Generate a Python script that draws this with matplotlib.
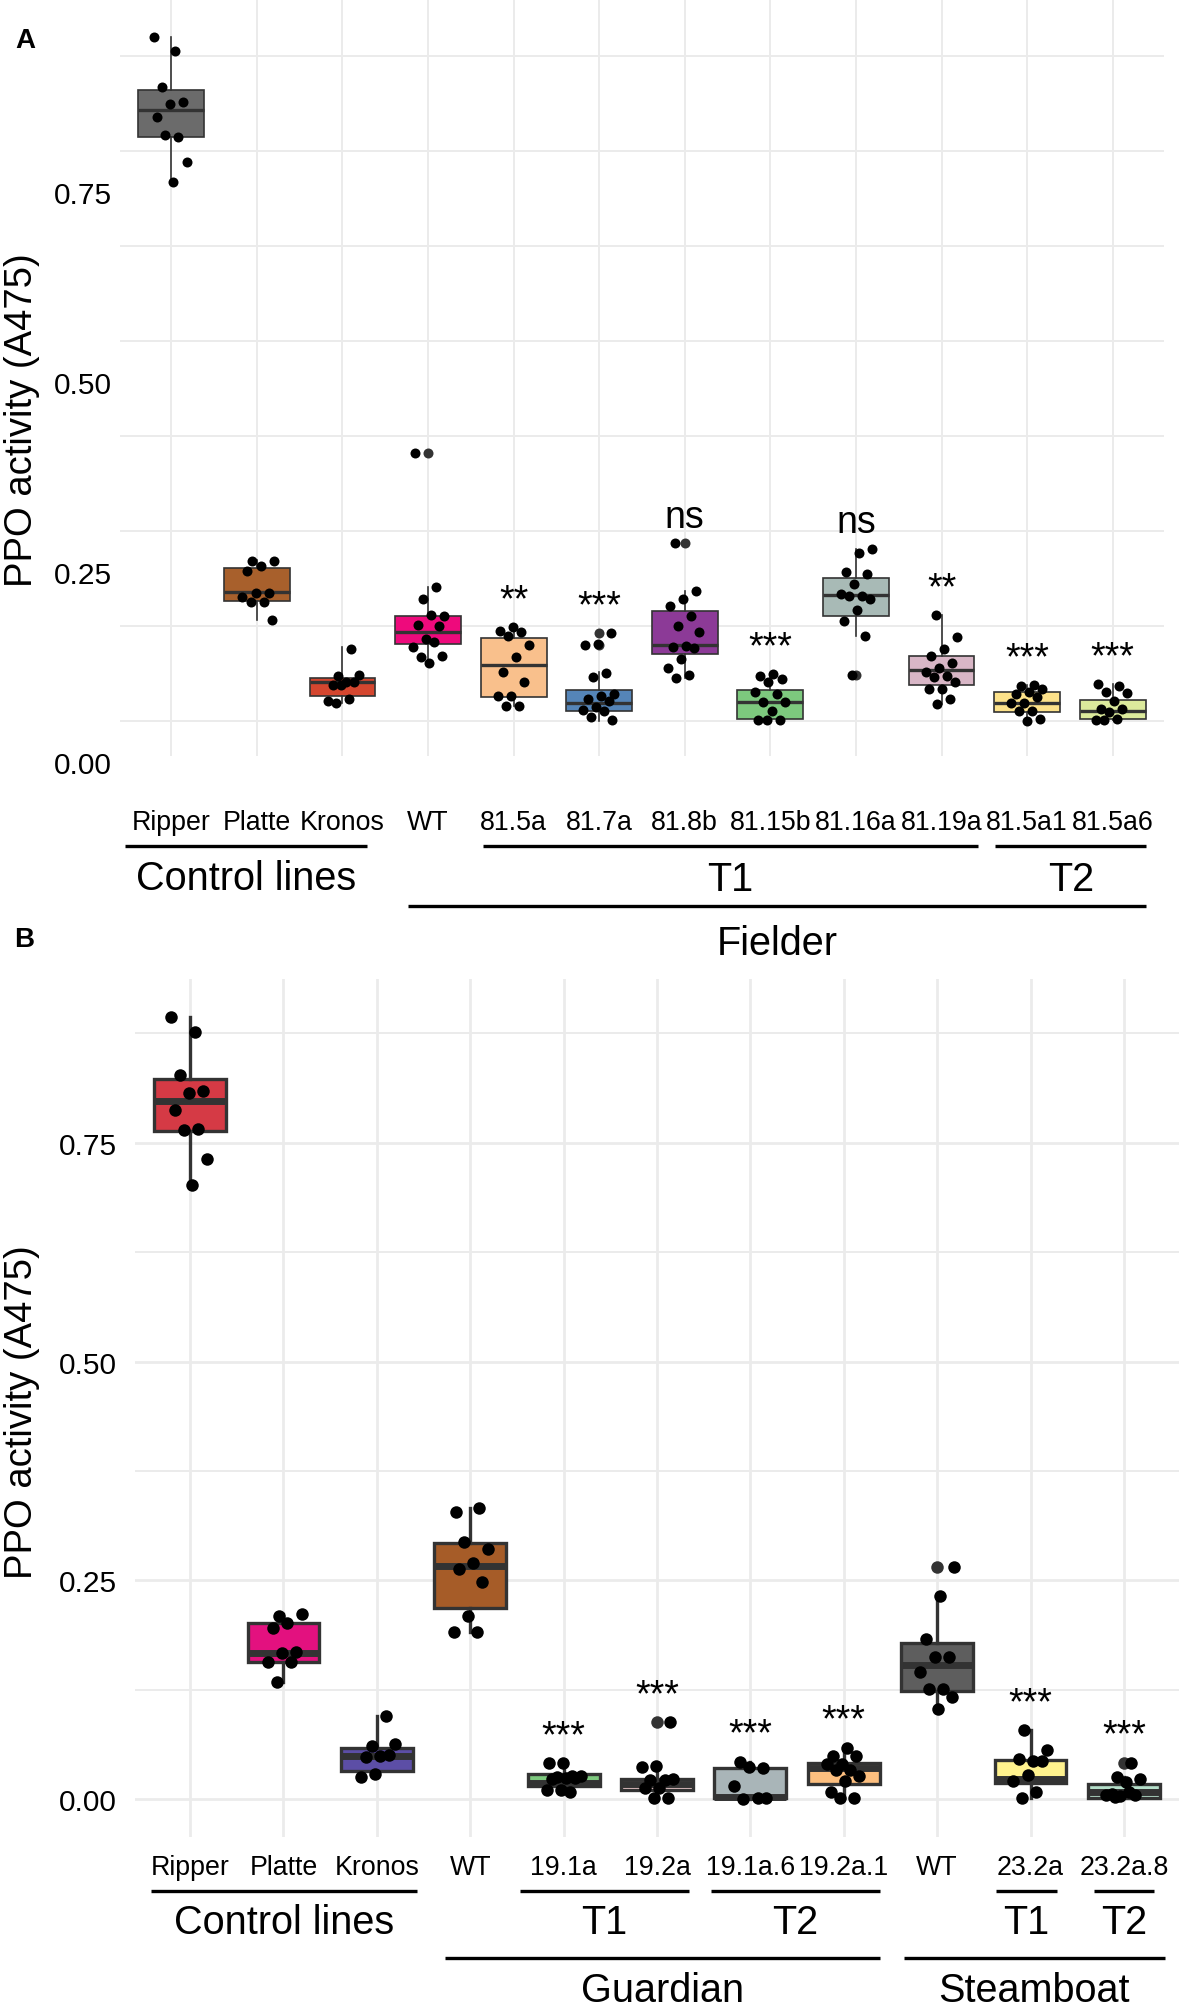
import numpy as np
import matplotlib.pyplot as plt
from matplotlib.transforms import blended_transform_factory as blend

plt.rcParams['font.family'] = ['Liberation Sans', 'DejaVu Sans']

W, H = 1181, 2008

# ---- panel A : Fielder ----
a_names = ['Ripper', 'Platte', 'Kronos', 'WT', '81.5a', '81.7a', '81.8b',
           '81.15b', '81.16a', '81.19a', '81.5a1', '81.5a6']
a_colors = ['#6b6b6b', '#a8602c', '#d4462f', '#ee0a7c', '#f9c08c', '#5585b8',
            '#8c3a97', '#7dc97e', '#a8bab6', '#d8b6c6', '#fde28a', '#dcea9c']
a_q1 = [0.769, 0.158, 0.033, 0.102, 0.032, 0.013, 0.088, 0.003, 0.138, 0.048, 0.012, 0.003]
a_med = [0.804, 0.170, 0.051, 0.117, 0.074, 0.024, 0.100, 0.025, 0.166, 0.067, 0.024, 0.013]
a_q3 = [0.830, 0.202, 0.057, 0.138, 0.109, 0.041, 0.145, 0.041, 0.188, 0.086, 0.038, 0.028]
a_lo = [0.709, 0.133, 0.024, 0.077, 0.020, 0.000, 0.057, 0.001, 0.112, 0.022, 0.000, 0.002]
a_hi = [0.900, 0.212, 0.097, 0.177, 0.124, 0.064, 0.171, 0.062, 0.227, 0.139, 0.047, 0.049]
a_fliers = [[], [], [], [0.353], [], [0.116, 0.100], [0.234], [], [0.061], [], [], []]
a_points = [
    [0.900, 0.882, 0.834, 0.815, 0.812, 0.795, 0.769, 0.771, 0.736, 0.709],
    [0.211, 0.210, 0.204, 0.197, 0.169, 0.169, 0.163, 0.157, 0.157, 0.133],
    [0.095, 0.059, 0.061, 0.051, 0.047, 0.051, 0.047, 0.027, 0.029, 0.024],
    [0.353, 0.177, 0.160, 0.138, 0.139, 0.127, 0.125, 0.108, 0.098, 0.104, 0.084, 0.086, 0.077],
    [0.124, 0.118, 0.117, 0.112, 0.100, 0.084, 0.065, 0.051, 0.033, 0.033, 0.020, 0.020],
    [0.116, 0.102, 0.100, 0.063, 0.058, 0.036, 0.033, 0.029, 0.027, 0.018, 0.015, 0.013, 0.005, 0.002],
    [0.234, 0.171, 0.160, 0.152, 0.138, 0.125, 0.117, 0.099, 0.097, 0.096, 0.081, 0.070, 0.060, 0.057],
    [0.062, 0.059, 0.055, 0.051, 0.038, 0.036, 0.025, 0.025, 0.013, 0.001, 0.001, 0.002],
    [0.227, 0.221, 0.196, 0.194, 0.180, 0.167, 0.165, 0.165, 0.161, 0.146, 0.131, 0.112, 0.061],
    [0.139, 0.111, 0.095, 0.086, 0.077, 0.070, 0.064, 0.059, 0.058, 0.051, 0.042, 0.042, 0.029, 0.022],
    [0.047, 0.046, 0.042, 0.038, 0.035, 0.032, 0.024, 0.024, 0.013, 0.013, 0.003, 0.000],
    [0.049, 0.046, 0.038, 0.037, 0.026, 0.016, 0.016, 0.012, 0.002, 0.003, 0.001],
]
a_sig = ['', '', '', '', '**', '***', 'ns', '***', 'ns', '**', '***', '***']
a_yticks = [0.00, 0.25, 0.50, 0.75]

# ---- panel B : Guardian / Steamboat ----
b_names = ['Ripper', 'Platte', 'Kronos', 'WT', '19.1a', '19.2a', '19.1a.6',
           '19.2a.1', 'WT', '23.2a', '23.2a.8']
b_colors = ['#d53a45', '#e3117f', '#5c4ea6', '#a65c28', '#7dc97e', '#e8c6c8',
            '#a9b5b8', '#fdbf7f', '#5e5e5e', '#fff28e', '#b5dfca']
b_q1 = [0.763, 0.157, 0.032, 0.218, 0.015, 0.011, 0.001, 0.017, 0.124, 0.019, 0.002]
b_med = [0.798, 0.167, 0.050, 0.266, 0.019, 0.018, 0.003, 0.036, 0.154, 0.023, 0.008]
b_q3 = [0.823, 0.201, 0.059, 0.293, 0.029, 0.023, 0.036, 0.041, 0.179, 0.045, 0.018]
b_lo = [0.702, 0.134, 0.025, 0.191, 0.008, 0.002, 0.000, 0.002, 0.103, 0.002, 0.001]
b_hi = [0.894, 0.212, 0.095, 0.333, 0.043, 0.038, 0.043, 0.059, 0.232, 0.079, 0.025]
b_fliers = [[], [], [], [], [], [0.088], [], [], [0.265], [], [0.042]]
b_points = [
    [0.894, 0.876, 0.827, 0.809, 0.807, 0.787, 0.766, 0.764, 0.731, 0.702],
    [0.209, 0.212, 0.202, 0.196, 0.168, 0.167, 0.157, 0.157, 0.134],
    [0.095, 0.061, 0.063, 0.050, 0.048, 0.051, 0.029, 0.025],
    [0.328, 0.333, 0.294, 0.286, 0.270, 0.263, 0.248, 0.209, 0.191, 0.191],
    [0.041, 0.041, 0.027, 0.025, 0.027, 0.024, 0.023, 0.024, 0.011, 0.011, 0.008],
    [0.088, 0.038, 0.037, 0.022, 0.022, 0.023, 0.013, 0.013, 0.002, 0.002],
    [0.043, 0.036, 0.037, 0.015, 0.001, 0.000, 0.001],
    [0.059, 0.049, 0.049, 0.040, 0.040, 0.034, 0.034, 0.027, 0.021, 0.008, 0.002, 0.002],
    [0.265, 0.232, 0.183, 0.163, 0.163, 0.146, 0.126, 0.126, 0.117, 0.103],
    [0.079, 0.056, 0.044, 0.046, 0.044, 0.028, 0.021, 0.008, 0.002],
    [0.042, 0.025, 0.023, 0.020, 0.006, 0.005, 0.004, 0.005, 0.008, 0.003],
]
b_sig = ['', '', '', '', '***', '***', '***', '***', '', '***', '***']
b_yticks = [0.00, 0.25, 0.50, 0.75]


def fy(y):
    # pixel row -> figure fraction
    return 1 - y / H


def draw_panel(ax, colors, q1, med, q3, lo, hi, fliers, points, sig,
               lw_box, lw_med, dot, gap, lw_grid):
    pos = np.arange(len(colors))
    stats = [dict(med=m, q1=a, q3=b, whislo=l, whishi=h, fliers=f)
             for m, a, b, l, h, f in zip(med, q1, q3, lo, hi, fliers)]
    bp = ax.bxp(stats, positions=pos, widths=0.77, patch_artist=True, showcaps=False,
                boxprops=dict(edgecolor='#333333', linewidth=lw_box),
                whiskerprops=dict(color='#333333', linewidth=lw_box),
                medianprops=dict(color='#333333', linewidth=lw_med, solid_capstyle='butt'),
                flierprops=dict(marker='o', markerfacecolor='#333333',
                                markeredgecolor='none', markersize=dot))
    for patch, c in zip(bp['boxes'], colors):
        patch.set_facecolor(c)
    for i, vals in enumerate(points):
        k = np.arange(len(vals))
        jit = ((k * 0.618034 + i * 0.37) % 1 - 0.5) * 0.4
        ax.scatter(i + jit, vals, s=dot ** 2, color='black', linewidths=0, zorder=4)
    for i, s in enumerate(sig):
        if s:
            ax.text(i, max(points[i]) + gap, s, ha='center', va='center', fontsize=27)
    ax.set_xticks(pos)
    ax.set_xticklabels([])
    ax.tick_params(length=0)
    ax.grid(True, which='both', color='#ebebeb', linewidth=lw_grid)
    ax.set_axisbelow(True)
    for sp in ax.spines.values():
        sp.set_visible(False)


def draw_groups(fig, ax, names, name_base, groups):
    tr = blend(ax.transData, fig.transFigure)
    for i, n in enumerate(names):
        ax.text(i, fy(name_base), n, transform=tr, ha='center', va='baseline',
                fontsize=19.3, clip_on=False)
    for x0, x1, yl, txt, yt in groups:
        ax.plot([x0, x1], [fy(yl), fy(yl)], transform=tr, color='black', lw=2.4,
                solid_capstyle='butt', clip_on=False)
        ax.text((x0 + x1) / 2, fy(yt), txt, transform=tr, ha='center', va='baseline',
                fontsize=28.5, clip_on=False)


fig = plt.figure(figsize=(W / 100, H / 100), dpi=100)

# panel A
axA = fig.add_axes([120 / W, fy(757), 1044 / W, 757 / H])
draw_panel(axA, a_colors, a_q1, a_med, a_q3, a_lo, a_hi, a_fliers, a_points, a_sig,
           1.2, 2.4, 7.2, 0.035, 1.4)
axA.set_xlim(-0.6, 11.6)
axA.set_ylim(-0.046, 0.95)
axA.set_yticks(np.arange(0, 0.9, 0.125))
axA.set_yticklabels([])
trA = blend(axA.transAxes, axA.transData)
for v in a_yticks:
    # labels in the source figure sit half a grid step below their lines
    axA.text(-0.008, v - 0.058, f'{v:.2f}', transform=trA, ha='right', va='center',
             fontsize=21.5, clip_on=False)
draw_groups(fig, axA, a_names, 830,
            [(-0.54, 2.29, 847, 'Control lines', 890),
             (3.64, 9.43, 847, 'T1', 891),
             (9.63, 11.39, 847, 'T2', 891),
             (2.76, 11.39, 907, 'Fielder', 955)])
fig.text(22 / W, fy(420), 'PPO activity (A475)', rotation=90, ha='center', va='center',
         fontsize=27.5)
fig.text(25 / W, fy(41), 'A', ha='center', va='center', fontsize=20, fontweight='bold')

# panel B
axB = fig.add_axes([135 / W, fy(1838), 1044 / W, (1838 - 980) / H])
draw_panel(axB, b_colors, b_q1, b_med, b_q3, b_lo, b_hi, b_fliers, b_points, b_sig,
           2.4, 5.0, 9.0, 0.031, 2.0)
axB.set_xlim(-0.59, 10.59)
axB.set_ylim(-0.043, 0.937)
axB.set_yticks(b_yticks)
axB.set_yticklabels([f'{v:.2f}' for v in b_yticks], fontsize=21.5)
axB.set_yticks(np.arange(0.125, 0.9, 0.25), minor=True)
axB.tick_params(axis='y', which='both', length=0, pad=13)
axB.grid(True, which='minor', color='#ebebeb', linewidth=1.4)
draw_groups(fig, axB, b_names, 1875,
            [(-0.42, 2.43, 1892, 'Control lines', 1934),
             (3.53, 5.34, 1892, 'T1', 1934),
             (5.58, 7.39, 1892, 'T2', 1934),
             (2.73, 7.39, 1959, 'Guardian', 2002),
             (8.63, 9.28, 1892, 'T1', 1934),
             (9.68, 10.32, 1892, 'T2', 1934),
             (7.64, 10.44, 1959, 'Steamboat', 2002)])
fig.text(22 / W, fy(1412), 'PPO activity (A475)', rotation=90, ha='center', va='center',
         fontsize=27.5)
fig.text(24 / W, fy(940), 'B', ha='center', va='center', fontsize=20, fontweight='bold')

fig.savefig('out.png', dpi=100)
